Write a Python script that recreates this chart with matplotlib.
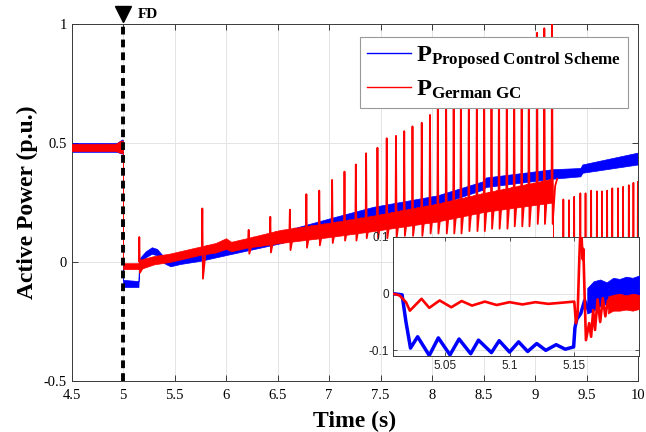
import numpy as np
import matplotlib
matplotlib.use('Agg')
import matplotlib.pyplot as plt
from matplotlib.lines import Line2D

# ---------------- data ----------------
# main plot: blue (proposed) noisy band envelope
blue_t  = [4.5, 4.94, 4.99, 5.0, 5.0005, 5.15, 5.155, 5.17, 5.22, 5.28, 5.33, 5.40, 5.46, 5.56, 5.75, 6.01, 6.53, 7.01, 7.43, 8.05, 8.50, 8.52, 9.17, 9.44, 9.46, 10.0]
blue_lo = [0.463, 0.463, 0.455, 0.458, -0.105, -0.105, -0.03, -0.01, 0.02, 0.035, 0.028, -0.005, -0.018, -0.008, 0.005, 0.03, 0.079, 0.142, 0.19, 0.24, 0.305, 0.315, 0.35, 0.36, 0.375, 0.41]
blue_hi = [0.500, 0.500, 0.515, 0.512, -0.075, -0.08, 0.0, 0.02, 0.045, 0.062, 0.055, 0.02, 0.008, 0.022, 0.035, 0.064, 0.127, 0.184, 0.232, 0.28, 0.34, 0.355, 0.39, 0.395, 0.41, 0.46]

# main plot: red (German GC) body envelope
red_t  = [4.5, 4.93, 4.98, 5.0, 5.0005, 5.15, 5.165, 5.3, 5.45, 5.6, 5.75, 5.9, 6.0, 6.05, 6.2, 6.53, 7.01, 7.43, 8.05, 8.5, 9.17, 9.185, 10.0]
red_lo = [0.466, 0.466, 0.458, 0.458, -0.03, -0.03, -0.03, -0.01, 0.0, 0.015, 0.03, 0.04, 0.055, 0.045, 0.06, 0.08, 0.105, 0.13, 0.17, 0.21, 0.25, -0.3, -0.3]
red_hi = [0.496, 0.497, 0.51, 0.51, -0.005, -0.005, 0.01, 0.025, 0.035, 0.05, 0.065, 0.08, 0.10, 0.085, 0.10, 0.135, 0.165, 0.195, 0.245, 0.29, 0.35, -0.3, -0.3]

# red spikes: time, peak, dip
spike_t    = [5.158, 5.77, 6.22, 6.43, 6.62, 6.78, 6.905, 7.03, 7.15, 7.26, 7.36, 7.47, 7.56, 7.65, 7.73, 7.81, 7.90, 7.98,
              8.056, 8.137, 8.21, 8.28, 8.357, 8.435, 8.506, 8.577, 8.65, 8.726, 8.797, 8.87, 8.94, 9.02, 9.09, 9.165]
spike_peak = [0.105, 0.225, 0.135, 0.19, 0.22, 0.285, 0.30, 0.345, 0.38, 0.41, 0.457, 0.48, 0.52, 0.53, 0.55, 0.57, 0.585, 0.618,
              0.66, 0.68, 0.70, 0.72, 0.74, 0.77, 0.79, 0.81, 0.83, 0.85, 0.88, 0.90, 0.93, 0.963, 0.982, 1.05]
spike_dip  = [-0.045, -0.07, 0.035, 0.04, 0.05, 0.06, 0.07, 0.08, 0.09, 0.09, 0.10, 0.10, 0.10, 0.10, 0.11, 0.11, 0.11, 0.12,
              0.12, 0.12, 0.12, 0.12, 0.13, 0.13, 0.13, 0.14, 0.14, 0.14, 0.15, 0.15, 0.15, 0.16, 0.16, 0.16]

# red spikes after 9.2 (from a low baseline)
late_t    = [9.275, 9.33, 9.38, 9.44, 9.49, 9.545, 9.60, 9.65, 9.70, 9.75, 9.805, 9.855, 9.91, 9.955, 9.998]
late_peak = [0.263, 0.26, 0.274, 0.289, 0.289, 0.30, 0.297, 0.297, 0.30, 0.31, 0.31, 0.316, 0.323, 0.333, 0.337]
late_base = -0.3

# inset: blue line (5.01 - 5.16)
ib_t = [5.010, 5.017, 5.020, 5.0235, 5.029, 5.038, 5.045, 5.054, 5.061, 5.070, 5.076, 5.086, 5.092, 5.100, 5.107,
        5.114, 5.121, 5.128, 5.136, 5.143, 5.1495, 5.1505, 5.152, 5.155, 5.158, 5.161]
ib_y = [0.000, -0.002, -0.050, -0.096, -0.076, -0.109, -0.078, -0.108, -0.080, -0.106, -0.082, -0.104, -0.083, -0.103, -0.085,
        -0.102, -0.088, -0.100, -0.090, -0.098, -0.094, -0.060, -0.045, -0.035, -0.012, -0.03]
# inset: blue noisy band after recovery
ibb_t  = [5.160, 5.165, 5.17, 5.175, 5.18, 5.185, 5.19, 5.195, 5.20]
ibb_lo = [-0.035, -0.03, -0.022, -0.018, -0.012, -0.008, -0.006, -0.004, -0.002]
ibb_hi = [0.010, 0.022, 0.025, 0.02, 0.028, 0.026, 0.03, 0.028, 0.032]

# inset: red line
ir_t = [5.010, 5.015, 5.020, 5.023, 5.032, 5.038, 5.046, 5.055, 5.063, 5.071, 5.081, 5.090, 5.100, 5.110, 5.120, 5.130,
        5.140, 5.150, 5.1513, 5.1526, 5.1538, 5.1546, 5.1556, 5.1564, 5.157, 5.158, 5.159, 5.1615, 5.163, 5.1646,
        5.166, 5.168, 5.170, 5.172, 5.174, 5.176, 5.178]
ir_y = [0.000, -0.003, -0.015, -0.030, -0.009, -0.025, -0.012, -0.024, -0.013, -0.021, -0.014, -0.020, -0.015, -0.019, -0.015,
        -0.018, -0.016, -0.014, -0.052, -0.034, 0.055, 0.105, 0.102, 0.061, 0.079, -0.005, -0.082, -0.052, -0.076,
        -0.029, -0.064, -0.01, -0.05, -0.008, -0.04, -0.012, -0.03]
# inset: red band after settling
irb_t  = [5.176, 5.18, 5.185, 5.19, 5.195, 5.20]
irb_lo = [-0.035, -0.03, -0.03, -0.028, -0.03, -0.027]
irb_hi = [-0.005, -0.002, 0.0, -0.003, 0.0, -0.002]

x_ticks = [4.5, 5, 5.5, 6, 6.5, 7, 7.5, 8, 8.5, 9, 9.5, 10]
x_tick_labels = ['4.5', '5', '5.5', '6', '6.5', '7', '7.5', '8', '8.5', '9', '9.5', '10']
y_ticks = [-0.5, 0, 0.5, 1]
y_tick_labels = ['-0.5', '0', '0.5', '1']
in_x_ticks = [5.05, 5.1, 5.15]
in_x_labels = ['5.05', '5.1', '5.15']
in_y_ticks = [-0.1, 0, 0.1]
in_y_labels = ['-0.1', '0', '0.1']
fault_time = 5.0
legend_labels = [r'$\mathbf{P}_{\mathbf{Proposed\ Control\ Scheme}}$', r'$\mathbf{P}_{\mathbf{German\ GC}}$']

# ---------------- style ----------------
plt.rcParams['font.family'] = ['Liberation Serif', 'DejaVu Serif']
plt.rcParams['mathtext.fontset'] = 'custom'
plt.rcParams['mathtext.rm'] = 'Liberation Serif'
plt.rcParams['mathtext.bf'] = 'Liberation Serif:bold'
plt.rcParams['mathtext.it'] = 'Liberation Serif:italic'

BLUE = '#0000ff'
RED = '#ff0000'
SPINE = '#3a3a3a'
GRID = '#e4e4e4'

fig = plt.figure(figsize=(6.46, 4.32), dpi=100)
ax = fig.add_axes([0.1107, 0.118, 0.877, 0.8264])

ax.fill_between(blue_t, blue_lo, blue_hi, color=BLUE, lw=0.5, zorder=2)
ax.fill_between(red_t, red_lo, red_hi, color=RED, lw=0.5, zorder=3)

red_mid_t = np.array(red_t)
red_top = np.array(red_hi)
for t, pk, dp in zip(spike_t, spike_peak, spike_dip):
    b = np.interp(t, red_mid_t, red_top)
    ax.plot([t - 0.004, t, t + 0.006, t + 0.03, t + 0.05], [b, pk, dp, b - 0.03, b],
            color=RED, lw=1.3, zorder=4)
for t, pk in zip(late_t, late_peak):
    ax.plot([t - 0.004, t, t + 0.004], [late_base, pk, late_base], color=RED, lw=1.2, zorder=4)

ax.set_xlim(4.5, 10)
ax.set_ylim(-0.5, 1)
ax.set_xticks(x_ticks)
ax.set_xticklabels(x_tick_labels)
ax.set_yticks(y_ticks)
ax.set_yticklabels(y_tick_labels)
ax.tick_params(direction='in', length=4, width=0.7, colors=SPINE, labelsize=10.5,
               top=True, right=True, labelcolor='black')
ax.tick_params(axis='x', pad=6)
for s in ax.spines.values():
    s.set_color(SPINE)
    s.set_linewidth(0.7)
ax.grid(True, color=GRID, lw=0.7, zorder=0)
ax.set_axisbelow(True)

ax.set_xlabel('Time (s)', fontsize=17, fontweight='bold', labelpad=6)
ax.set_ylabel('Active Power (p.u.)', fontsize=17, fontweight='bold', labelpad=4)

# fault marker
ax.plot([fault_time, fault_time], [-0.5, 1.01], color='black', lw=2.8,
        linestyle=(0, (2.0, 1.3)), zorder=6, clip_on=False)
ax.plot([fault_time], [1.04], marker='v', color='black', markersize=11, clip_on=False, zorder=7)
ax.text(fault_time + 0.14, 1.04, 'FD', fontsize=11, fontweight='bold', va='center', ha='left')

handles = [Line2D([0], [0], color=BLUE, lw=1.0), Line2D([0], [0], color=RED, lw=1.0)]
leg = ax.legend(handles, legend_labels, loc='upper right', bbox_to_anchor=(0.982, 0.9636),
                borderaxespad=0, fontsize=17.5, frameon=True, fancybox=False, framealpha=1,
                edgecolor='#999999', handlelength=1.8, handletextpad=0.2, borderpad=0.3,
                labelspacing=0.3)
leg.get_frame().set_linewidth(0.8)
leg.set_zorder(10)

# inset
axi = fig.add_axes([0.6084, 0.1759, 0.3808, 0.2755])
axi.set_facecolor('white')
axi.plot(ib_t, ib_y, color=BLUE, lw=2.5, zorder=3, solid_joinstyle='round')
axi.fill_between(ibb_t, ibb_lo, ibb_hi, color=BLUE, lw=0.5, zorder=3)
axi.plot(ir_t, ir_y, color=RED, lw=1.9, zorder=4, solid_joinstyle='round')
axi.fill_between(irb_t, irb_lo, irb_hi, color=RED, lw=0.5, zorder=4)
axi.set_xlim(5.01, 5.2)
axi.set_ylim(-0.11, 0.1)
axi.set_xticks(in_x_ticks)
axi.set_xticklabels(in_x_labels, family=['Liberation Sans', 'DejaVu Sans'])
axi.set_yticks(in_y_ticks)
axi.set_yticklabels(in_y_labels, family=['Liberation Sans', 'DejaVu Sans'])
axi.tick_params(direction='in', length=3, width=0.6, colors=SPINE, labelsize=8.5,
                top=True, right=True, labelcolor='#222222', pad=3)
for s in axi.spines.values():
    s.set_color(SPINE)
    s.set_linewidth(0.7)
axi.grid(True, color=GRID, lw=0.7, zorder=0)
axi.set_axisbelow(True)

fig.savefig('out.png', dpi=100)
